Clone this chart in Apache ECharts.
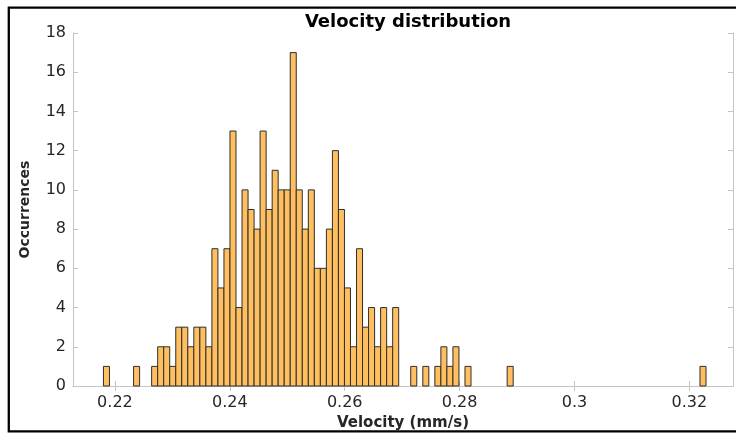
<html>
<head>
<meta charset="UTF-8">
<title>Velocity distribution</title>
<script src="https://cdn.jsdelivr.net/npm/echarts@6/dist/echarts.min.js"></script>
<style>
    body{ margin:0; background:#fff; }
    #main{ width:736px; height:434px; }
</style>
</head>
<body>
<div id="main"></div>
<script>
// histogram bins (100 bins)
var binStart = 0.2180;
var binEnd = 0.3229;
var counts = [
    1,0,0,0,0,1,0,0,1,2,
    2,1,3,3,2,3,3,2,7,5,
    7,13,4,10,9,8,13,9,11,10,
    10,17,10,8,10,6,6,8,12,9,
    5,2,7,3,4,2,4,2,4,0,
    0,1,0,1,0,1,2,1,2,0,
    1,0,0,0,0,0,0,1,0,0,
    0,0,0,0,0,0,0,0,0,0,
    0,0,0,0,0,0,0,0,0,0,
    0,0,0,0,0,0,0,0,0,1
];
var xTicks = [0.22, 0.24, 0.26, 0.28, 0.3, 0.32];
var yTicks = [0, 2, 4, 6, 8, 10, 12, 14, 16, 18];

var binWidth = (binEnd - binStart) / counts.length;
var barData = counts.map(function (c, i) { return [i, c]; });

var tickFont = 'DejaVu Sans';
var axisGrey = '#c4c4c4';

var myChart = echarts.init(document.getElementById('main'));

var option = {
    animation: false,
    title: {
        text: 'Velocity distribution',
        left: 403,
        top: 8,
        textAlign: 'center',
        textStyle: { fontFamily: 'DejaVu Sans', fontWeight: 'bold', fontSize: 18, color: '#000' }
    },
    graphic: [{
        type: 'rect',
        shape: { x: 8.8, y: 7.7, width: 740, height: 423.6 },
        style: { fill: null, stroke: '#000', lineWidth: 2.3 },
        silent: true
    }],
    grid: { left: 73, right: 3, top: 33, bottom: 48, outerBoundsMode: 'none', containLabel: false },
    xAxis: [{
        type: 'value',
        min: 0.2127,
        max: 0.3276,
        name: 'Velocity (mm/s)',
        nameLocation: 'middle',
        nameGap: 30,
        nameTextStyle: { fontFamily: 'DejaVu Sans', fontWeight: 'bold', fontSize: 15, color: '#262626' },
        axisLine: { show: true, lineStyle: { color: axisGrey, width: 1 } },
        axisTick: { show: true, inside: true, length: 5, customValues: xTicks, lineStyle: { color: axisGrey } },
        axisLabel: { customValues: xTicks, margin: 9, fontFamily: tickFont, fontSize: 16, color: '#262626' },
        splitLine: { show: false }
    }, {
        type: 'value',
        position: 'top',
        min: 0.2127,
        max: 0.3276,
        axisLine: { show: true, lineStyle: { color: axisGrey, width: 1 } },
        axisTick: { show: true, inside: true, length: 5, customValues: xTicks, lineStyle: { color: axisGrey } },
        axisLabel: { show: false },
        splitLine: { show: false }
    }],
    yAxis: [{
        type: 'value',
        min: 0,
        max: 18,
        interval: 2,
        name: 'Occurrences',
        nameLocation: 'middle',
        nameGap: 41,
        nameTextStyle: { fontFamily: 'DejaVu Sans', fontWeight: 'bold', fontSize: 14, color: '#262626' },
        axisLine: { show: true, lineStyle: { color: axisGrey, width: 1 } },
        axisTick: { show: true, inside: true, length: 5, lineStyle: { color: axisGrey } },
        axisLabel: { margin: 7, fontFamily: tickFont, fontSize: 16, color: '#262626' },
        splitLine: { show: false }
    }, {
        type: 'value',
        position: 'right',
        min: 0,
        max: 18,
        interval: 2,
        axisLine: { show: true, lineStyle: { color: axisGrey, width: 1 } },
        axisTick: { show: true, inside: true, length: 5, lineStyle: { color: axisGrey } },
        axisLabel: { show: false },
        splitLine: { show: false }
    }],
    series: [{
        type: 'custom',
        xAxisIndex: 0,
        yAxisIndex: 0,
        data: barData,
        encode: { x: -1, y: 1 },
        renderItem: function (params, api) {
            var i = api.value(0);
            var c = api.value(1);
            if (!c) return null;
            var x0 = binStart + i * binWidth;
            var p0 = api.coord([x0, 0]);
            var p1 = api.coord([x0 + binWidth, c]);
            return {
                type: 'rect',
                shape: { x: p0[0], y: p1[1], width: p1[0] - p0[0], height: p0[1] - p1[1] },
                style: { fill: '#ffbf5f', stroke: '#2e2e2e', lineWidth: 1 }
            };
        }
    }]
};

myChart.setOption(option);
</script>
</body>
</html>
